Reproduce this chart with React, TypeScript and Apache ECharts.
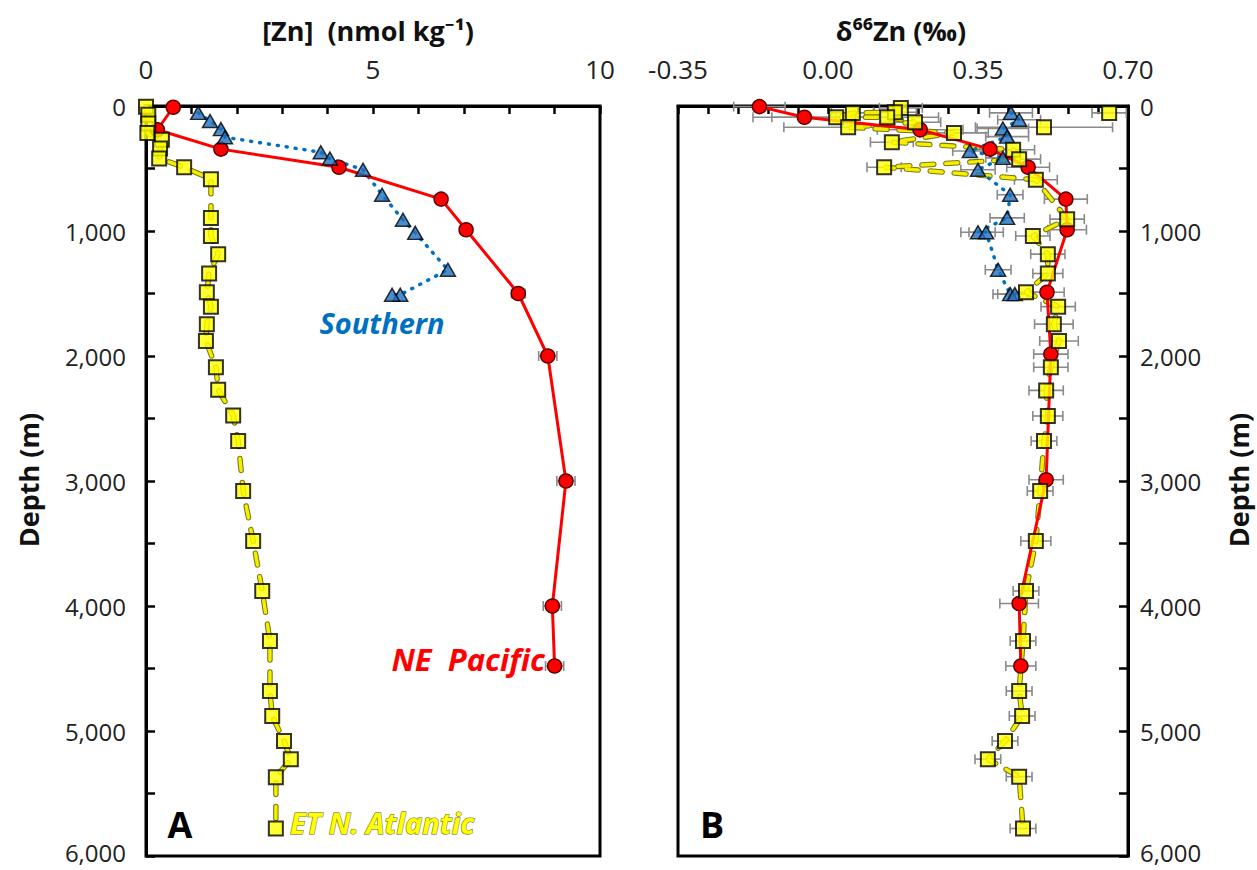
import React, { useEffect, useRef } from "react";
import * as echarts from "echarts";

// ---------- Panel A: [Zn] (nmol/kg) ----------
const pacificDepthA = [10, 190, 345, 490, 745, 990, 1500, 2000, 3000, 4000, 4480];
const pacificZnA = [0.6, 0.25, 1.65, 4.25, 6.5, 7.05, 8.2, 8.85, 9.25, 8.95, 9.0];
const pacificZnErrA = [0, 0, 0, 0, 0, 0.1, 0.15, 0.2, 0.2, 0.2, 0.2];

const southernDepthA = [55, 120, 185, 250, 370, 420, 510, 710, 910, 1015, 1310, 1510, 1510];
const southernZnA = [1.15, 1.41, 1.65, 1.74, 3.85, 4.05, 4.78, 5.2, 5.66, 5.93, 6.65, 5.6, 5.42];

const atlanticDepthA = [5, 70, 140, 215, 270, 340, 420, 490, 585, 895, 1040, 1185, 1340, 1490, 1605, 1745, 1880, 2090, 2270, 2475, 2680, 3080, 3480, 3880, 4280, 4680, 4880, 5080, 5225, 5370, 5780];
const atlanticZnA = [0, 0.05, 0.05, 0.03, 0.35, 0.31, 0.29, 0.84, 1.43, 1.43, 1.43, 1.59, 1.39, 1.34, 1.43, 1.34, 1.32, 1.54, 1.59, 1.92, 2.03, 2.14, 2.36, 2.56, 2.73, 2.73, 2.78, 3.04, 3.19, 2.86, 2.86];

// ---------- Panel B: d66Zn (permil) ----------
const pacificDepthB = [5, 90, 190, 345, 490, 745, 990, 1490, 1985, 2990, 3980, 4480];
const pacificD66B = [-0.16, -0.055, 0.215, 0.378, 0.467, 0.555, 0.558, 0.511, 0.52, 0.509, 0.446, 0.45];
const pacificErrB = [0.06, 0.12, 0.1, 0.04, 0.05, 0.05, 0.045, 0.04, 0.04, 0.04, 0.045, 0.035];

const southernDepthB = [55, 110, 180, 245, 360, 415, 510, 710, 895, 1010, 1010, 1310, 1505, 1505];
const southernD66B = [0.427, 0.446, 0.408, 0.418, 0.331, 0.408, 0.35, 0.425, 0.418, 0.35, 0.369, 0.397, 0.425, 0.436];
const southernErrB = [0.05, 0.05, 0.06, 0.05, 0.04, 0.04, 0.04, 0.03, 0.04, 0.04, 0.04, 0.03, 0.04, 0.04];

const atlanticDepthB = [15, 50, 55, 90, 90, 130, 170, 215, 290, 350, 425, 490, 590, 905, 1040, 1185, 1340, 1490, 1605, 1745, 1880, 2090, 2275, 2480, 2680, 3080, 3480, 3880, 4280, 4680, 4880, 5080, 5225, 5365, 5780];
const atlanticD66B = [0.17, 0.156, 0.058, 0.019, 0.138, 0.203, 0.047, 0.294, 0.149, 0.432, 0.446, 0.131, 0.485, 0.558, 0.478, 0.513, 0.513, 0.462, 0.537, 0.527, 0.539, 0.52, 0.509, 0.513, 0.504, 0.495, 0.485, 0.462, 0.455, 0.446, 0.453, 0.413, 0.373, 0.446, 0.455];
const atlanticErrB = [0.05, 0.05, 0.05, 0.15, 0.12, 0.06, 0.15, 0.08, 0.05, 0.05, 0.05, 0.04, 0.05, 0.04, 0.04, 0.04, 0.035, 0.04, 0.04, 0.045, 0.045, 0.04, 0.04, 0.035, 0.03, 0.03, 0.035, 0.03, 0.03, 0.03, 0.03, 0.03, 0.03, 0.03, 0.03];
const atlanticExtraDepthB = [55, 170];
const atlanticExtraD66B = [0.656, 0.504];
const atlanticExtraErrB = [0.04, 0.16];

const zincTicks = [0, 5, 10];
const deltaTicks = [-0.35, 0.0, 0.35, 0.7];
const depthTicks = [0, 1000, 2000, 3000, 4000, 5000, 6000];

const FONT = '"Open Sans", "Noto Sans", sans-serif';

const pairs = (xs: number[], ds: number[]) => xs.map((x, i) => [x, ds[i]]);
const triples = (xs: number[], ds: number[], es: number[]) => xs.map((x, i) => [x, ds[i], es[i]]);

const errRender = (_params: any, api: any) => {
  const v = api.value(0);
  const d = api.value(1);
  const e = api.value(2);
  if (!e) return null;
  const p1 = api.coord([v - e, d]);
  const p2 = api.coord([v + e, d]);
  const h = 5;
  const style = { stroke: "#8a8a8a", lineWidth: 1.6 };
  return {
    type: "group",
    children: [
      { type: "line", shape: { x1: p1[0], y1: p1[1], x2: p2[0], y2: p2[1] }, style },
      { type: "line", shape: { x1: p1[0], y1: p1[1] - h, x2: p1[0], y2: p1[1] + h }, style },
      { type: "line", shape: { x1: p2[0], y1: p2[1] - h, x2: p2[0], y2: p2[1] + h }, style },
    ],
  };
};

const yellowItem = { color: "#FFFF00", borderColor: "#000", borderWidth: 2 };
const redItem = { color: "#FF0000", borderColor: "#5a0000", borderWidth: 1.5 };
const blueItem = { color: "#1F6FBF", borderColor: "#000", borderWidth: 1.5 };

function seriesFor(gi: number, pac: number[][], sou: number[][], atl: number[][]) {
  return [
    {
      type: "line", xAxisIndex: gi, yAxisIndex: gi, data: atl, showSymbol: false, symbol: "none", z: 3,
      lineStyle: { color: "#7a7a10", width: 5.5, type: [12, 12], cap: "round" },
    },
    {
      type: "line", xAxisIndex: gi, yAxisIndex: gi, data: atl, showSymbol: false, symbol: "none", z: 3,
      lineStyle: { color: "#F5EE00", width: 3.4, type: [12, 12], cap: "round" },
    },
    {
      type: "line", xAxisIndex: gi, yAxisIndex: gi, data: sou, symbol: "none", z: 4,
      lineStyle: { color: "#0070C0", width: 3.5, type: [1, 8], cap: "round" },
    },
    {
      type: "line", xAxisIndex: gi, yAxisIndex: gi, data: pac, symbol: "circle", symbolSize: 14, z: 5,
      lineStyle: { color: "#FF0000", width: 3 }, itemStyle: redItem,
    },
    {
      type: "scatter", xAxisIndex: gi, yAxisIndex: gi, data: sou, symbol: "triangle", symbolSize: [15, 13], z: 6,
      itemStyle: blueItem,
    },
    {
      type: "scatter", xAxisIndex: gi, yAxisIndex: gi, data: atl, symbol: "rect", symbolSize: 14, z: 7,
      itemStyle: yellowItem,
    },
  ];
}

export default function App() {
  const ref = useRef<HTMLDivElement>(null);
  useEffect(() => {
    if (!ref.current) return;
    const chart = echarts.init(ref.current, undefined, { renderer: "svg" });

    const axisLine = { show: true, onZero: false, lineStyle: { color: "#000", width: 3 } };
    const tickLabel = { fontSize: 26, color: "#222", fontFamily: FONT, interval: 0, showMinLabel: true, showMaxLabel: true };
    const depthAxis = (gi: number, pos: string) => ({
      type: "value", gridIndex: gi, position: pos, inverse: true, min: 0, max: 6000, interval: 500,
      axisLine, axisTick: { show: true, inside: true, length: 9, lineStyle: { color: "#000", width: 2.5 } },
      axisLabel: {
        ...tickLabel, fontSize: 24, lineHeight: 24, margin: pos === "left" ? 20 : 12,
        rich: { last: { fontSize: 24, lineHeight: 24, color: "#222", fontFamily: FONT, padding: [0, 0, 8, 0] } },
        formatter: (v: number) => {
          if (!depthTicks.includes(v)) return "";
          const s = v.toLocaleString("en-US");
          return v === 6000 ? `{last|${s}}` : s;
        },
      },
      splitLine: { show: false },
    });

    const gridBase = { show: true, borderColor: "#000", borderWidth: 3, backgroundColor: "transparent", containLabel: false, outerBoundsMode: "none" };

    const option: any = {
      animation: false,
      backgroundColor: "#fff",
      grid: [
        { ...gridBase, left: 146, top: 106, width: 454, height: 750 },
        { ...gridBase, left: 678, top: 106, width: 450, height: 750 },
      ],
      xAxis: [
        {
          type: "value", gridIndex: 0, position: "top", min: 0, max: 10, interval: 1,
          axisLine, axisTick: { show: true, inside: true, length: 8, lineStyle: { color: "#000", width: 2.5 } },
          axisLabel: { ...tickLabel, margin: 24, formatter: (v: number) => (zincTicks.includes(Math.round(v)) && Math.abs(v - Math.round(v)) < 1e-6 ? String(Math.round(v)) : "") },
          splitLine: { show: false },
        },
        {
          type: "value", gridIndex: 1, position: "top", min: -0.35, max: 0.7, interval: 0.07,
          axisLine, axisTick: { show: true, inside: true, length: 8, lineStyle: { color: "#000", width: 2.5 } },
          axisLabel: {
            ...tickLabel, margin: 24,
            formatter: (v: number) => {
              const hit = deltaTicks.find((t) => Math.abs(t - v) < 1e-6);
              return hit === undefined ? "" : hit.toFixed(2);
            },
          },
          splitLine: { show: false },
        },
      ],
      yAxis: [depthAxis(0, "left"), depthAxis(1, "right")],
      series: [
        {
          type: "custom", xAxisIndex: 0, yAxisIndex: 0, renderItem: errRender, z: 2,
          encode: { x: 0, y: 1 }, data: triples(pacificZnA, pacificDepthA, pacificZnErrA),
        },
        {
          type: "custom", xAxisIndex: 1, yAxisIndex: 1, renderItem: errRender, z: 2,
          encode: { x: 0, y: 1 },
          data: [
            ...triples(pacificD66B, pacificDepthB, pacificErrB),
            ...triples(southernD66B, southernDepthB, southernErrB),
            ...triples(atlanticD66B, atlanticDepthB, atlanticErrB),
            ...triples(atlanticExtraD66B, atlanticExtraDepthB, atlanticExtraErrB),
          ],
        },
        ...seriesFor(0, pairs(pacificZnA, pacificDepthA), pairs(southernZnA, southernDepthA), pairs(atlanticZnA, atlanticDepthA)),
        ...seriesFor(1, pairs(pacificD66B, pacificDepthB), pairs(southernD66B, southernDepthB), pairs(atlanticD66B, atlanticDepthB)),
        {
          type: "scatter", xAxisIndex: 1, yAxisIndex: 1, data: pairs(atlanticExtraD66B, atlanticExtraDepthB),
          symbol: "rect", symbolSize: 14, z: 7, itemStyle: yellowItem,
        },
      ],
      graphic: [
        { type: "text", x: 368, y: 30, style: { text: "[Zn]  (nmol kg⁻¹)", font: `bold 27px ${FONT}`, fill: "#111", align: "center", verticalAlign: "middle" } },
        { type: "text", x: 901, y: 30, style: { text: "δ⁶⁶Zn (‰)", font: `bold 27px ${FONT}`, fill: "#111", align: "center", verticalAlign: "middle" } },
        { type: "text", x: 28, y: 480, rotation: Math.PI / 2, style: { text: "Depth (m)", font: `bold 27px ${FONT}`, fill: "#111", align: "center", verticalAlign: "middle" } },
        { type: "text", x: 1238, y: 480, rotation: Math.PI / 2, style: { text: "Depth (m)", font: `bold 27px ${FONT}`, fill: "#111", align: "center", verticalAlign: "middle" } },
        { type: "text", x: 382, y: 322, z: 20, style: { text: "Southern", font: `italic bold 29px ${FONT}`, fill: "#0070C0", align: "center", verticalAlign: "middle" } },
        { type: "text", x: 545, y: 659, z: 20, style: { text: "NE  Pacific", font: `italic bold 31px ${FONT}`, fill: "#FF0000", align: "right", verticalAlign: "middle" } },
        { type: "text", x: 290, y: 822, z: 20, style: { text: "ET N. Atlantic", font: `italic bold 29px ${FONT}`, fill: "#FFFF00", stroke: "#5e5e00", lineWidth: 1, align: "left", verticalAlign: "middle" } },
        { type: "text", x: 180, y: 824, z: 20, style: { text: "A", font: `bold 36px ${FONT}`, fill: "#000", align: "center", verticalAlign: "middle" } },
        { type: "text", x: 712, y: 824, z: 20, style: { text: "B", font: `bold 36px ${FONT}`, fill: "#000", align: "center", verticalAlign: "middle" } },
      ],
    };
    chart.setOption(option);
    return () => chart.dispose();
  }, []);
  return <div ref={ref} style={{ position: "absolute", left: 0, top: 0, width: 1257, height: 870 }} />;
}
